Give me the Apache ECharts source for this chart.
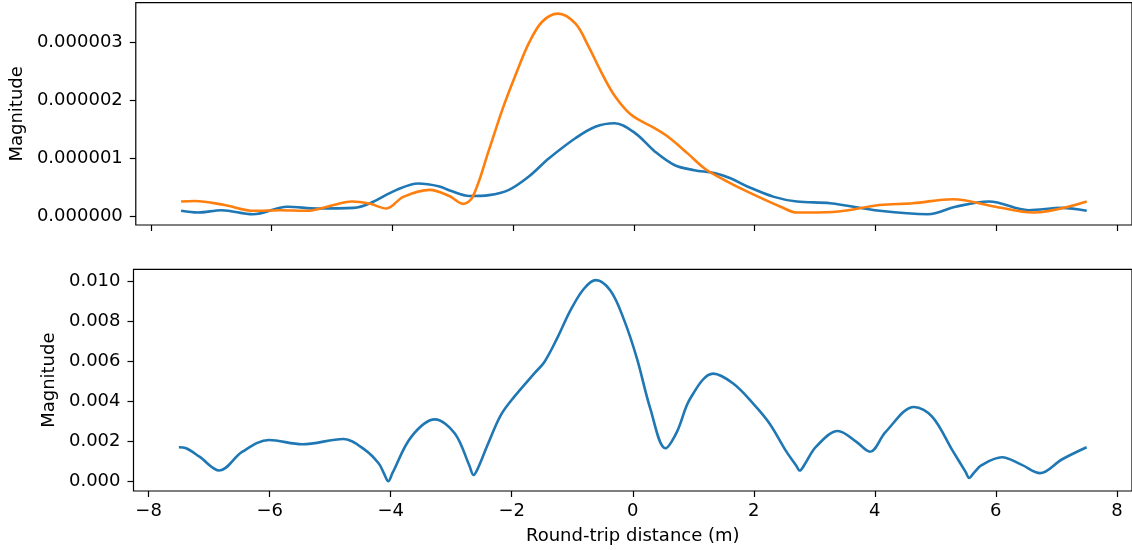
<!DOCTYPE html>
<html>
<head>
<meta charset="utf-8">
<script src="https://cdn.jsdelivr.net/npm/echarts@6.0.0/dist/echarts.min.js"></script>
<style>
  html, body { margin: 0; padding: 0; background: #fff; }
  #chart { width: 1132px; height: 550px; }
</style>
</head>
<body>
<div id="chart"></div>
<script>
// Upper panel: two channels (values in units of 1e-6)
const upperBlueX = [-7.5, -7.22, -6.83, -6.31, -5.74, -5.24, -4.64, -4.37, -3.93, -3.57, -3.22, -3.05, -2.72, -2.40, -2.07, -1.74, -1.41, -0.97, -0.64, -0.32, 0.02, 0.35, 0.67, 1.00, 1.33, 1.60, 1.88, 2.32, 2.70, 3.25, 4.07, 4.87, 5.33, 5.88, 6.54, 7.09, 7.5];
const upperBlueY = [0.09, 0.06, 0.10, 0.03, 0.16, 0.13, 0.14, 0.22, 0.45, 0.56, 0.51, 0.44, 0.345, 0.36, 0.45, 0.68, 0.99, 1.34, 1.54, 1.60, 1.43, 1.11, 0.88, 0.79, 0.74, 0.65, 0.51, 0.33, 0.25, 0.22, 0.09, 0.03, 0.16, 0.25, 0.10, 0.14, 0.09];
const upperOrangeX = [-7.5, -7.27, -6.78, -6.29, -5.85, -5.41, -5.08, -4.67, -4.37, -4.10, -3.82, -3.38, -3.05, -2.83, -2.67, -2.40, -2.18, -1.96, -1.74, -1.52, -1.26, -0.97, -0.75, -0.53, -0.31, -0.04, 0.35, 0.56, 0.89, 1.17, 1.50, 1.88, 2.43, 2.70, 3.30, 4.07, 4.62, 5.28, 5.99, 6.62, 7.5];
const upperOrangeY = [0.25, 0.26, 0.19, 0.09, 0.10, 0.09, 0.16, 0.25, 0.21, 0.13, 0.33, 0.45, 0.34, 0.21, 0.33, 1.14, 1.83, 2.43, 2.98, 3.35, 3.49, 3.32, 2.92, 2.46, 2.06, 1.74, 1.51, 1.37, 1.08, 0.82, 0.62, 0.42, 0.16, 0.06, 0.07, 0.19, 0.22, 0.29, 0.16, 0.06, 0.25];
const upperScale = 1e-6;

// Lower panel: combined magnitude (values in units of 1e-3)
const lowerX = [-7.5, -7.38, -7.16, -6.83, -6.45, -6.01, -5.46, -4.78, -4.42, -4.20, -4.11, -4.04, -3.97, -3.66, -3.27, -2.94, -2.70, -2.63, -2.56, -2.40, -2.18, -1.96, -1.63, -1.46, -1.24, -1.03, -0.81, -0.61, -0.37, -0.15, 0.07, 0.29, 0.54, 0.73, 0.95, 1.33, 1.66, 1.99, 2.26, 2.54, 2.70, 2.76, 2.84, 3.03, 3.39, 3.69, 3.92, 4.18, 4.65, 4.95, 5.28, 5.50, 5.56, 5.64, 5.77, 6.10, 6.43, 6.73, 7.09, 7.5];
const lowerY = [1.71, 1.66, 1.24, 0.55, 1.49, 2.07, 1.86, 2.12, 1.57, 0.91, 0.40, 0.02, 0.43, 2.23, 3.10, 2.40, 0.80, 0.33, 0.65, 1.82, 3.31, 4.22, 5.38, 5.96, 7.20, 8.53, 9.60, 10.04, 9.52, 8.11, 6.13, 3.64, 1.66, 2.48, 4.14, 5.38, 4.89, 3.89, 2.90, 1.49, 0.80, 0.55, 0.85, 1.74, 2.52, 1.99, 1.49, 2.48, 3.72, 3.23, 1.57, 0.48, 0.18, 0.45, 0.83, 1.21, 0.83, 0.42, 1.10, 1.71];
const lowerScale = 1e-3;

// Axis ticks
const xTicks = [-8, -6, -4, -2, 0, 2, 4, 6, 8];
const upperYTicks = [0, 1e-6, 2e-6, 3e-6];
const lowerYTicks = [0, 0.002, 0.004, 0.006, 0.008, 0.010];

const pairs = (xs, ys, k) => xs.map((x, i) => [x, ys[i] * k]);

const FONT = 'DejaVu Sans';
const FS = 18;
const ink = '#000';

function xAxisFor(gridIndex, withLabels) {
  return {
    type: 'value', gridIndex, min: -8.25, max: 8.25,
    axisLine: { show: false, onZero: false },
    splitLine: { show: false },
    axisTick: { show: true, inside: false, length: 6, customValues: xTicks, lineStyle: { color: ink, width: 1.2 } },
    axisLabel: {
      show: withLabels, customValues: xTicks, margin: 11,
      fontFamily: FONT, fontSize: FS, color: ink,
      formatter: v => String(v).replace('-', '\u2212')
    },
    name: withLabels ? 'Round-trip distance (m)' : '',
    nameLocation: 'middle', nameGap: 36,
    nameTextStyle: { fontFamily: FONT, fontSize: FS, color: ink }
  };
}

function yAxisFor(gridIndex, min, max, ticks, digits, gap) {
  return {
    type: 'value', gridIndex, min, max,
    axisLine: { show: false, onZero: false },
    splitLine: { show: false },
    axisTick: { show: true, inside: false, length: 6, customValues: ticks, lineStyle: { color: ink, width: 1.2 } },
    axisLabel: {
      customValues: ticks, margin: 13,
      fontFamily: FONT, fontSize: FS, color: ink,
      formatter: v => v.toFixed(digits)
    },
    name: 'Magnitude', nameLocation: 'middle', nameGap: gap, nameRotate: 90,
    nameTextStyle: { fontFamily: FONT, fontSize: FS, color: ink }
  };
}

const lineStyle = c => ({ color: c, width: 2.6 });

const chart = echarts.init(document.getElementById('chart'), null, { renderer: 'canvas' });
chart.setOption({
  animation: false,
  backgroundColor: '#fff',
  grid: [
    { left: 133.5, top: 2.7, width: 1004, height: 222.3, show: true, borderColor: ink, borderWidth: 1.2, backgroundColor: 'transparent' },
    { left: 133.5, top: 269.3, width: 1004, height: 221.7, show: true, borderColor: ink, borderWidth: 1.2, backgroundColor: 'transparent' }
  ],
  xAxis: [xAxisFor(0, false), xAxisFor(1, true)],
  yAxis: [
    yAxisFor(0, -0.155e-6, 3.678e-6, upperYTicks, 6, 102),
    yAxisFor(1, -0.00047, 0.01058, lowerYTicks, 3, 68)
  ],
  series: [
    { type: 'line', xAxisIndex: 0, yAxisIndex: 0, data: pairs(upperBlueX, upperBlueY, upperScale), smooth: 0.35, showSymbol: false, lineStyle: lineStyle('#1f77b4'), itemStyle: { color: '#1f77b4' } },
    { type: 'line', xAxisIndex: 0, yAxisIndex: 0, data: pairs(upperOrangeX, upperOrangeY, upperScale), smooth: 0.35, showSymbol: false, lineStyle: lineStyle('#ff7f0e'), itemStyle: { color: '#ff7f0e' } },
    { type: 'line', xAxisIndex: 1, yAxisIndex: 1, data: pairs(lowerX, lowerY, lowerScale), smooth: 0.35, showSymbol: false, lineStyle: lineStyle('#1f77b4'), itemStyle: { color: '#1f77b4' } }
  ]
});
</script>
</body>
</html>
